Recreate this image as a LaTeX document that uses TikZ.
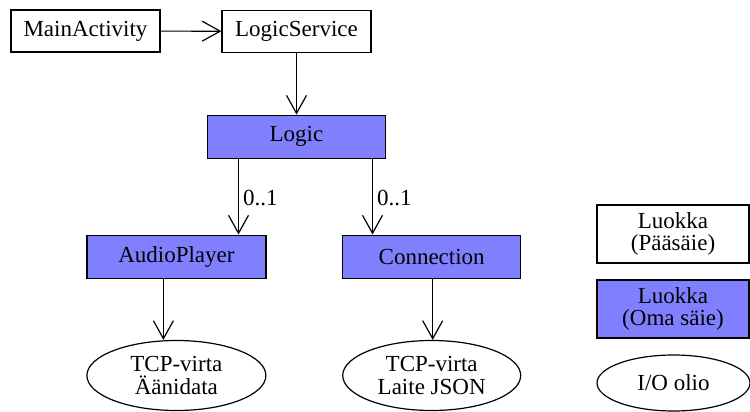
\documentclass[tikz,border=0pt]{standalone}
\usepackage{fontspec}
\setmainfont{Liberation Serif}
\usetikzlibrary{shapes.geometric,arrows.meta}
\definecolor{thread}{RGB}{128,128,255}
\begin{document}
\begin{tikzpicture}[x=1pt,y=-1pt,
  every node/.style={font=\fontsize{23}{22.5}\selectfont, inner sep=0pt, line width=1.2pt},
  cls/.style={draw, rectangle, minimum width=149pt, minimum height=42pt, align=center},
  thr/.style={cls, fill=thread, minimum width=178pt, minimum height=43pt},
  io/.style={draw, ellipse, minimum width=179pt, minimum height=70pt, align=center},
  arr/.style={line width=1.2pt, -{Straight Barb[length=18pt,width=20pt,line width=1.2pt]}},
  lbl/.style={anchor=west}]
\useasboundingbox (0,0) rectangle (750,412);
\node[cls] (main) at (85.5,31) {MainActivity};
\node[cls] (svc) at (296.5,31.3) {LogicService};
\node[thr] (logic) at (296.5,136.7) {Logic};
\node[thr, minimum width=179pt] (audio) at (176.4,256.6) {AudioPlayer};
\node[thr] (conn) at (431.7,256.6) {Connection};
\node[io] (e1) at (176.4,375.5) {TCP-virta\\Äänidata};
\node[io, minimum width=178pt] (e2) at (431.7,375.5) {TCP-virta\\Laite JSON};
\node[cls, minimum width=152pt, minimum height=58pt] (l1) at (673,234) {Luokka\\(Pääsäie)};
\node[cls, fill=thread, minimum width=152pt, minimum height=58pt] (l2) at (673,309) {Luokka\\(Oma säie)};
\node[io, minimum width=153pt, minimum height=56pt] (l3) at (673.5,383) {I/O olio};
\draw[arr] (main) -- (svc);
\draw[arr] (svc) -- (logic);
\draw[arr] ([xshift=-58pt]logic.south) -- ([xshift=-58pt]logic.south |- audio.north)
  node[lbl, pos=0.52, xshift=4pt] (m1) {0..1};
\draw[arr] ([xshift=76pt]logic.south) -- ([xshift=76pt]logic.south |- conn.north)
  node[lbl, pos=0.52, xshift=4pt] (m2) {0..1};
\draw[arr] ([xshift=-13pt]audio.south) -- ([xshift=-13pt]audio.south |- e1.north);
\draw[arr] ([xshift=1pt]conn.south) -- ([xshift=1pt]conn.south |- e2.north);
\end{tikzpicture}
\end{document}
